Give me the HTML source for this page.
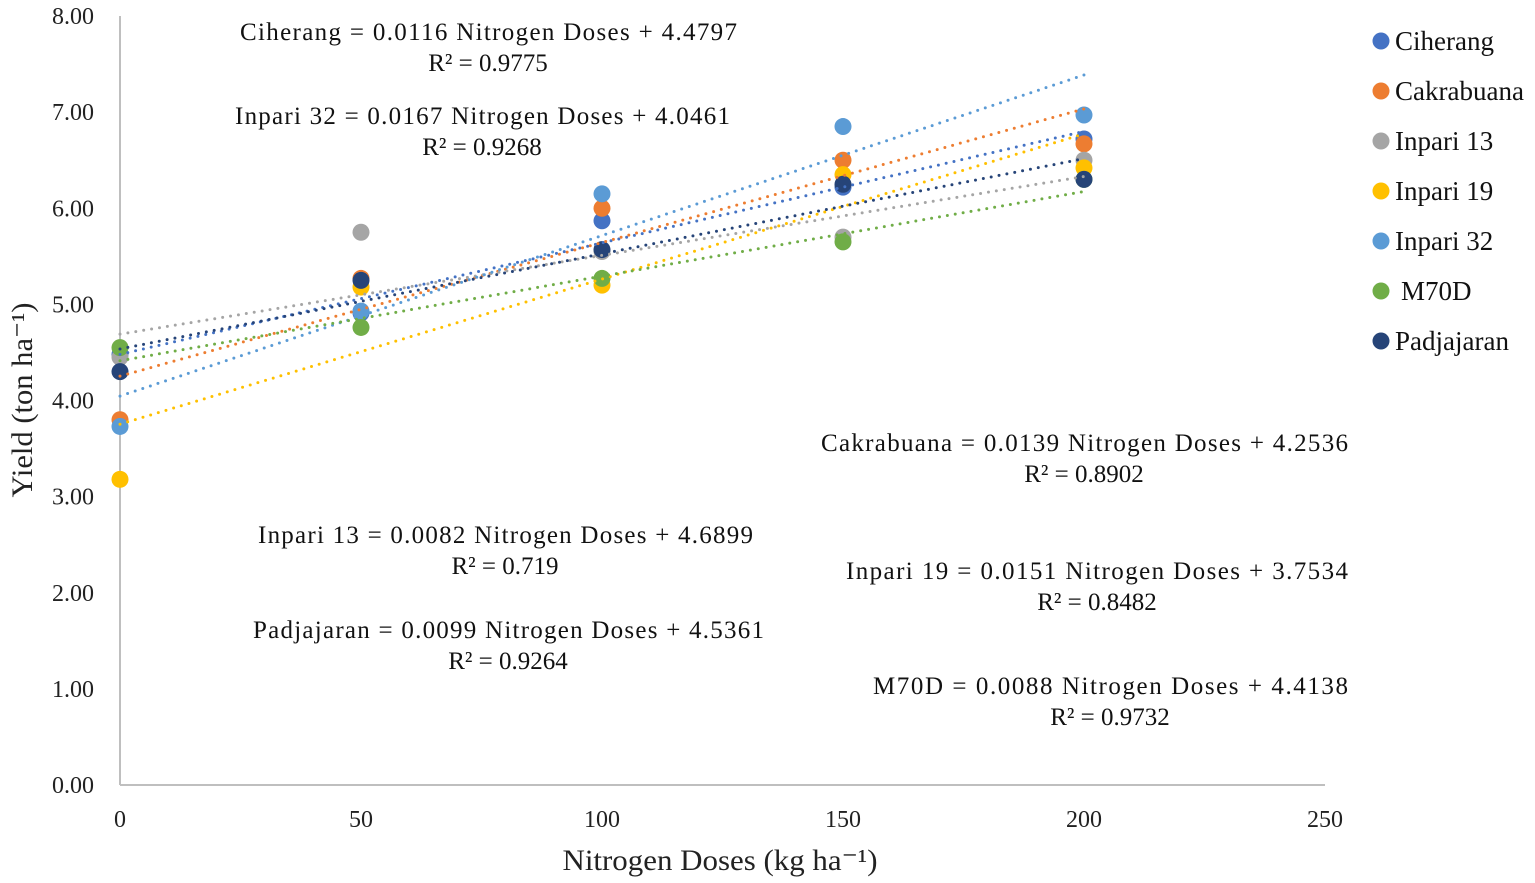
<!DOCTYPE html>
<html><head><meta charset="utf-8"><style>
html,body{margin:0;padding:0;background:#fff}
svg{display:block;font-family:"Liberation Serif",serif}
</style></head><body>
<svg id="chart" width="1535" height="883" viewBox="0 0 1535 883" xmlns="http://www.w3.org/2000/svg">
<g id="axes"></g>
<g id="marks"></g>
<g font-size="25" fill="#111">
<text x="240" y="40" textLength="497" lengthAdjust="spacing">Ciherang = 0.0116 Nitrogen Doses + 4.4797</text>
<text x="488" y="71" text-anchor="middle">R² = 0.9775</text>
<text x="235" y="124" textLength="495" lengthAdjust="spacing">Inpari 32 = 0.0167 Nitrogen Doses + 4.0461</text>
<text x="482" y="155" text-anchor="middle">R² = 0.9268</text>
<text x="821" y="451" textLength="527" lengthAdjust="spacing">Cakrabuana = 0.0139 Nitrogen Doses + 4.2536</text>
<text x="1084" y="482" text-anchor="middle">R² = 0.8902</text>
<text x="258" y="543" textLength="495" lengthAdjust="spacing">Inpari 13 = 0.0082 Nitrogen Doses + 4.6899</text>
<text x="505" y="574" text-anchor="middle">R² = 0.719</text>
<text x="846" y="579" textLength="502" lengthAdjust="spacing">Inpari 19 = 0.0151 Nitrogen Doses + 3.7534</text>
<text x="1097" y="610" text-anchor="middle">R² = 0.8482</text>
<text x="253" y="638" textLength="511" lengthAdjust="spacing">Padjajaran = 0.0099 Nitrogen Doses + 4.5361</text>
<text x="508" y="669" text-anchor="middle">R² = 0.9264</text>
<text x="873" y="694" textLength="475" lengthAdjust="spacing">M70D = 0.0088 Nitrogen Doses + 4.4138</text>
<text x="1110" y="725" text-anchor="middle">R² = 0.9732</text>
</g>
<g id="legend"></g>
</svg>
<script>
const doses = [0, 50, 100, 150, 200];
const seriesNames = ["Ciherang","Cakrabuana","Inpari 13","Inpari 19","Inpari 32","M70D","Padjajaran"];
const ciherang   = [4.48, 4.91, 5.87, 6.22, 6.72];
const cakrabuana = [3.80, 5.27, 6.00, 6.50, 6.67];
const inpari13   = [4.45, 5.75, 5.55, 5.70, 6.50];
const inpari19   = [3.18, 5.18, 5.20, 6.35, 6.42];
const inpari32   = [3.73, 4.93, 6.15, 6.85, 6.97];
const m70d       = [4.55, 4.76, 5.27, 5.65, 6.30];
const padjajaran = [4.30, 5.25, 5.57, 6.25, 6.30];
const slopes     = [0.0116, 0.0139, 0.0082, 0.0151, 0.0167, 0.0088, 0.0099];
const intercepts = [4.4797, 4.2536, 4.6899, 3.7534, 4.0461, 4.4138, 4.5361];
const colors = ["#4472c4","#ed7d31","#a5a5a5","#ffc000","#5b9bd5","#70ad47","#264478"];
const xTicks = [0, 50, 100, 150, 200, 250];
const yTicks = [0, 1, 2, 3, 4, 5, 6, 7, 8];
const allSeries = [ciherang, cakrabuana, inpari13, inpari19, inpari32, m70d, padjajaran];

const NS = "http://www.w3.org/2000/svg";
const X = v => 120 + v * (1325 - 120) / 250;
const Y = v => 785 - v * (785 - 16) / 8;
function mk(tag, attrs, parent, txt){const e=document.createElementNS(NS,tag);for(const k in attrs)e.setAttribute(k,attrs[k]);if(txt!==undefined)e.textContent=txt;parent.appendChild(e);return e;}

const axes = document.getElementById('axes');
let e = mk('line',{x1:X(0),y1:Y(0),x2:X(250),y2:Y(0),stroke:'#bfbfbf','stroke-width':2},axes);


e = mk('line',{x1:X(0),y1:Y(0),x2:X(0),y2:Y(8),stroke:'#bfbfbf','stroke-width':2},axes);


xTicks.forEach(t=>{
  const l = mk('text',{x:X(t),y:827,'font-size':24,'text-anchor':'middle',fill:'#222'},axes,String(t));
  
  
});
yTicks.forEach(t=>{
  const l = mk('text',{x:94,y:Y(t)+8,'font-size':24,'text-anchor':'end',fill:'#222'},axes,t.toFixed(2));
  
  
});
e = mk('text',{x:720,y:870,'font-size':30,'text-anchor':'middle',fill:'#222',textLength:315,lengthAdjust:'spacingAndGlyphs'},axes,'Nitrogen Doses (kg ha⁻¹)');


e = mk('text',{x:0,y:0,'font-size':30,'text-anchor':'middle',fill:'#222',transform:'translate(32,400) rotate(-90)',textLength:195,lengthAdjust:'spacingAndGlyphs'},axes,'Yield (ton ha⁻¹)');



const marks = document.getElementById('marks');
allSeries.forEach((s,i)=>{
  s.forEach((v,j)=>{
    const c = mk('circle',{cx:X(doses[j]),cy:Y(v),r:8.5,fill:colors[i]},marks);
    
    
  });
});
allSeries.forEach((s,i)=>{
  const x0=doses[0], x1=doses[doses.length-1];
  const l = mk('line',{x1:X(x0),y1:Y(intercepts[i]+slopes[i]*x0),x2:X(x1),y2:Y(intercepts[i]+slopes[i]*x1),stroke:colors[i],'stroke-width':3,'stroke-dasharray':'0 8','stroke-linecap':'round'},marks);
  
  
});

const legend = document.getElementById('legend');
seriesNames.forEach((n,i)=>{
  const y = 41 + i*50;
  const g = mk('g',{},legend);
  
  
  mk('circle',{cx:1381,cy:y,r:8.5,fill:colors[i]},g);
  mk('text',{x:n==='M70D'?1401:1395,y:y+9,'font-size':27,fill:'#111'},g,n);
});
</script>
</body></html>
